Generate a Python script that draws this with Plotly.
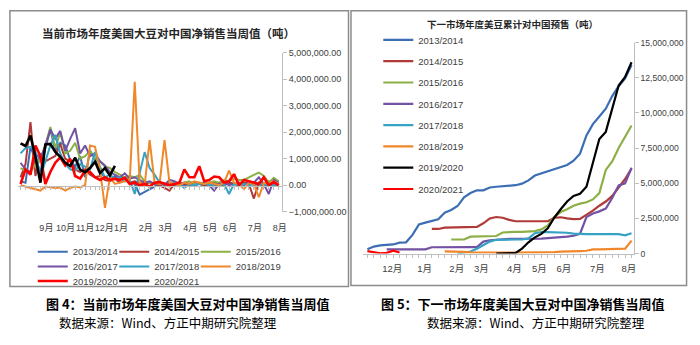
import plotly.graph_objects as go

W, H = 700, 345

# ---------------- data: left chart (weekly net sales, million tonnes) ----------------
weeks_cur = list(range(53))
cur_2013_2014 = [0.15,0.1,1.45,1.0,0.5,1.4,2.1,1.3,1.6,1.5,
                 0.95,0.7,1.1,0.3,1.3,1.0,0.5,0.3,0.2,0.35,
                 0.25,0.3,0.15,0.05,-0.35,-0.25,-0.15,-0.05,0.1,0.05,
                 0.1,0.0,0.05,0.0,0.05,0.1,0.05,0.0,0.05,-0.05,
                 0.05,0.0,0.1,0.05,0.0,0.05,0.1,0.0,0.05,-0.05,
                 0.05,0.0,0.05]
cur_2014_2015 = [0.3,0.8,2.38,0.35,1.2,0.9,1.0,1.1,1.55,1.0,
                 0.9,0.6,0.5,0.6,0.4,0.3,0.35,0.2,0.15,0.25,
                 0.1,0.2,0.1,0.15,0.1,0.05,0.1,0.05,0.0,-0.1,
                 -0.2,0.05,0.1,0.05,0.0,0.1,0.05,0.0,0.05,0.1,
                 0.05,0.0,0.1,0.05,0.0,0.1,0.05,-0.5,0.1,0.05,
                 0.15,0.05,0.1]
cur_2015_2016 = [0.65,0.55,0.5,0.8,1.0,1.5,2.2,1.4,2.0,1.2,
                 1.3,1.6,1.0,1.1,1.3,1.0,0.9,0.7,0.65,0.5,
                 0.4,0.3,0.35,0.3,0.4,0.15,0.1,0.05,0.1,0.0,
                 -0.05,0.1,0.05,0.1,0.15,0.05,0.1,0.05,0.1,0.15,
                 0.1,0.2,0.15,0.25,0.2,0.2,0.3,0.4,0.48,0.35,
                 0.1,0.28,0.15]
cur_2016_2017 = [0.85,0.6,0.5,1.2,1.0,1.5,2.1,1.75,2.05,1.3,
                 1.75,2.15,1.2,1.5,1.1,1.2,0.9,0.75,0.5,0.4,
                 0.3,0.45,0.25,0.3,0.2,0.1,0.15,0.05,0.1,0.0,
                 0.2,0.15,0.05,0.1,0.05,0.0,0.05,0.1,0.0,-0.2,
                 0.05,0.1,0.0,0.05,0.1,0.0,0.15,0.1,0.3,0.05,
                 -0.33,0.2,0.1]
cur_2017_2018 = [1.2,1.4,1.45,1.3,0.3,0.9,1.5,1.9,1.2,0.8,
                 0.6,0.55,0.8,0.7,0.6,1.25,0.7,0.3,0.4,0.25,
                 0.3,0.15,0.2,-0.33,0.5,1.25,0.65,0.4,0.1,0.05,
                 0.0,0.1,0.05,-0.1,0.05,0.0,0.05,0.1,0.0,0.05,
                 0.0,0.05,-0.33,0.05,0.0,0.05,0.0,0.05,0.1,0.0,
                 0.05,0.0,0.05]
cur_2018_2019 = [0.0,-0.05,-0.1,-0.15,-0.2,-0.05,-0.08,-0.1,-0.08,-0.2,
                 -0.1,-0.05,-0.08,0.0,1.5,1.45,0.6,-0.85,0.3,0.05,
                 0.1,0.15,0.2,3.9,0.1,0.0,1.7,0.1,0.05,1.7,
                 0.1,0.05,0.0,0.1,0.05,0.15,0.1,0.05,0.1,0.05,
                 0.0,0.1,0.55,0.1,0.05,-0.15,0.1,0.05,-0.45,0.1,
                 0.05,0.15,0.05]
cur_2019_2020 = [0.05,0.6,0.4,1.5,1.1,0.05,0.5,0.85,1.05,0.75,
                 1.0,0.35,0.25,0.55,0.5,0.3,0.2,0.3,0.2,0.25,
                 0.2,0.28,0.05,0.1,0.0,0.05,-0.05,0.1,0.12,0.05,
                 0.0,0.05,0.1,0.6,0.3,0.3,0.72,0.15,0.2,0.33,
                 0.3,0.1,0.15,0.42,0.0,0.2,0.15,0.1,0.05,0.3,
                 0.0,0.12,0.0]
cur_2020_2021 = [1.58,1.48,1.87,1.07,0.1,1.54,1.56,1.26,1.07,0.85,
                 0.73,1.04,0.59,0.49,0.65,0.89,0.46,0.65,0.37,0.73]

cur_month_pos = [5.2, 9.06, 13.0, 16.85, 20.25, 25.2, 29.2, 34.2, 38.2, 42.2, 47.2, 52.2]
cur_month_lbl = ["9月","10月","11月","12月","1月","2月","3月","4月","5月","6月","7月","8月"]

# ---------------- data: right chart (cumulative presales, million tonnes) ----------------
weeks_next = list(range(42))
N = None
next_2013_2014 = [0.3,0.5,0.58,0.64,0.65,0.78,0.8,1.33,2.07,2.2,
                  2.3,2.44,2.9,3.1,3.38,4.0,4.3,4.5,4.5,4.7,
                  4.75,4.8,4.83,4.86,4.97,5.2,5.55,5.7,5.85,5.97,
                  6.13,6.3,6.6,7.1,8.4,9.2,9.75,10.3,11.2,11.9,
                  12.45,13.4]
next_2014_2015 = [N]*10 + [1.75,1.75,1.85,1.85,1.87,1.87,1.87,1.9,2.15,2.5,
                           2.6,2.55,2.4,2.3,2.3,2.3,2.3,2.3,2.3,2.55,
                           2.58,2.5,2.45,2.47,2.75,3.05,3.4,3.7,4.1,4.7,
                           5.3,6.05]
next_2015_2016 = [N]*13 + [1.0,1.0,1.0,1.2,1.2,1.2,1.22,1.25,1.5,1.55,
                           1.55,1.55,1.57,1.6,1.72,2.0,2.6,2.95,3.15,3.4,
                           3.55,3.65,3.85,4.3,5.95,6.55,7.5,8.3,9.1]
next_2016_2017 = [N]*3 + [0.3,0.3,0.3,0.3,0.3,0.3,0.3,0.45,0.46,0.46,
                          0.46,0.46,0.46,0.46,0.46,0.85,0.95,1.0,1.02,1.04,
                          1.04,1.04,1.04,1.04,1.07,1.1,1.12,1.15,1.2,1.27,
                          1.4,2.6,2.85,3.0,3.2,3.95,4.85,5.0,6.1]
next_2017_2018 = [N]*14 + [0.0,0.05,0.15,0.35,0.6,0.85,0.98,1.0,1.0,1.0,
                           1.0,1.08,1.45,1.52,1.52,1.52,1.52,1.48,1.42,1.38,
                           1.38,1.38,1.38,1.38,1.38,1.38,1.3,1.45]
next_2018_2019 = [N]*12 + [0.15,0.15,0.15,0.12,0.08,0.07,0.07,0.07,0.07,0.07,
                           0.07,0.07,0.07,0.07,0.07,0.07,0.07,0.1,0.14,0.14,
                           0.15,0.18,0.2,0.3,0.3,0.3,0.33,0.35,0.35,0.92]
next_2019_2020 = [N]*20 + [0.0,0.0,0.0,0.05,0.35,0.8,1.15,1.4,1.8,2.55,
                           3.15,3.7,4.1,4.25,4.75,6.5,8.15,8.65,10.3,11.95,
                           12.55,13.6]
next_2020_2021 = [0.18,0.08,0.02,0.05,0.2,0.08] + [N]*36

next_month_pos = [3.85, 8.9, 13.87, 17.7, 22.8, 26.7, 30.5, 35.7, 40.6]
next_month_lbl = ["12月","1月","2月","3月","4月","5月","6月","7月","8月"]

years = ["2013/2014","2014/2015","2015/2016","2016/2017",
         "2017/2018","2018/2019","2019/2020","2020/2021"]
colors_cur = ["#3C6EB4","#B03A37","#8CB045","#7352A3","#36A3C4","#F0882B","#FF0000","#000000"]
colors_next = ["#3C6EB4","#B03A37","#8CB045","#7352A3","#36A3C4","#F0882B","#000000","#FF0000"]
cur_series = [cur_2013_2014, cur_2014_2015, cur_2015_2016, cur_2016_2017,
              cur_2017_2018, cur_2018_2019, cur_2019_2020, cur_2020_2021]
next_series = [next_2013_2014, next_2014_2015, next_2015_2016, next_2016_2017,
               next_2017_2018, next_2018_2019, next_2019_2020, next_2020_2021]

def px_x(p):
    return p / W

def px_y(p):
    return 1 - p / H

NUMFONT = "Liberation Sans, Arial, Noto Sans CJK SC, sans-serif"
CJK = "Noto Sans CJK SC, sans-serif"

fig = go.Figure()

legend_of_cur = ["legend", "legend", "legend", "legend2", "legend2", "legend2", "legend3", "legend3"]
for i, (name, vals) in enumerate(zip(years, cur_series)):
    fig.add_trace(go.Scatter(
        x=weeks_cur[:len(vals)], y=[v * 1e6 for v in vals], name=name, mode="lines",
        line=dict(color=colors_cur[i], width=2.6 if i >= 6 else 2),
        xaxis="x", yaxis="y", legend=legend_of_cur[i]))
    if i in (2, 5, 7):
        # blank spacer entry so the last legend entry of each row is not clipped
        fig.add_trace(go.Scatter(
            x=[None], y=[None], name=" ", mode="lines",
            line=dict(color="rgba(0,0,0,0)", width=0),
            xaxis="x", yaxis="y", legend=legend_of_cur[i], hoverinfo="skip"))

# right chart: draw black last so it sits on top
order_next = [0, 1, 2, 3, 4, 5, 7, 6]
for i in order_next:
    vals = next_series[i]
    fig.add_trace(go.Scatter(
        x=weeks_next, y=[None if v is None else v * 1e6 for v in vals], name=years[i],
        mode="lines", line=dict(color=colors_next[i], width=2.2),
        xaxis="x2", yaxis="y2", legend="legend4", legendgroup="n" + years[i],
        legendrank=i + 1))

# empty traces so the month-label axes get drawn
fig.add_trace(go.Scatter(x=[None], y=[None], xaxis="x3", yaxis="y",
                         showlegend=False, hoverinfo="skip"))
fig.add_trace(go.Scatter(x=[None], y=[None], xaxis="x4", yaxis="y2",
                         showlegend=False, hoverinfo="skip"))

axcol = "#BFBFBF"
tickfont = dict(family=NUMFONT, size=9, color="#404040")
tickfont2 = dict(family=NUMFONT, size=8.6, color="#404040")
monthfont = dict(family=NUMFONT, size=9, color="#404040")
monthfont2 = dict(family=NUMFONT, size=9.5, color="#404040")

cur_range = [-0.54, 52.66]
next_range = [-0.62, 41.34]

fig.update_layout(
    width=W, height=H, margin=dict(l=0, r=0, t=0, b=0),
    paper_bgcolor="white", plot_bgcolor="rgba(0,0,0,0)",
    showlegend=True,
    xaxis=dict(domain=[px_x(18), px_x(284)], range=cur_range, anchor="free",
               position=px_y(186), showline=True, linecolor=axcol, linewidth=1,
               ticks="outside", ticklen=3, tickcolor=axcol, tickvals=weeks_cur,
               showticklabels=False, showgrid=False, zeroline=False),
    xaxis3=dict(domain=[px_x(18), px_x(284)], range=cur_range, overlaying="x",
                anchor="free", position=px_y(222), showline=False, ticks="",
                tickvals=cur_month_pos, ticktext=cur_month_lbl, tickangle=0,
                showgrid=False, zeroline=False, tickfont=monthfont),
    yaxis=dict(domain=[px_y(213), px_y(49)], range=[-1e6, 5e6], side="right",
               anchor="x", showline=True, linecolor=axcol, ticks="outside", ticklen=4,
               tickcolor=axcol, dtick=1e6, tickformat=",.2f", showgrid=False,
               zeroline=False, tickfont=tickfont),
    xaxis2=dict(domain=[px_x(366), px_x(638.3)], range=next_range, anchor="y2",
                showline=True, linecolor=axcol, ticks="outside", ticklen=3,
                tickcolor=axcol, tickvals=weeks_next, showticklabels=False,
                showgrid=False, zeroline=False),
    xaxis4=dict(domain=[px_x(366), px_x(638.3)], range=next_range, overlaying="x2",
                anchor="free", position=px_y(264), showline=False, ticks="",
                tickvals=next_month_pos, ticktext=next_month_lbl, tickangle=0,
                showgrid=False, zeroline=False, tickfont=monthfont2),
    yaxis2=dict(domain=[px_y(256), px_y(38.7)], range=[0, 15e6], side="right",
                anchor="x2", showline=True, linecolor=axcol, ticks="outside", ticklen=4,
                tickcolor=axcol, dtick=2.5e6, tickformat=",d", showgrid=False,
                zeroline=False, tickfont=tickfont2),
)

legfont = dict(family=NUMFONT, size=9.5, color="#404040")
for key, ypx in (("legend", 254), ("legend2", 269.2), ("legend3", 284.2)):
    fig.update_layout({key: dict(orientation="h", x=px_x(33), xanchor="left",
                                 y=px_y(ypx), yanchor="middle", entrywidth=36.5,
                                 traceorder="normal", font=legfont,
                                 bgcolor="rgba(0,0,0,0)")})
fig.update_layout(legend4=dict(orientation="v", x=px_x(381), xanchor="left",
                               y=px_y(21), yanchor="top", traceorder="grouped",
                               tracegroupgap=2.3, font=legfont,
                               bgcolor="rgba(0,0,0,0)"))

# frames
shapes = [
    dict(type="rect", xref="paper", yref="paper", x0=px_x(10), x1=px_x(351),
         y0=px_y(290), y1=px_y(6), line=dict(color="#8C8C8C", width=1.5)),
    dict(type="rect", xref="paper", yref="paper", x0=px_x(353.5), x1=px_x(691.5),
         y0=px_y(289), y1=px_y(6), line=dict(color="#8C8C8C", width=1.5)),
]
fig.update_layout(shapes=shapes)

def ann(text, xpx, ypx, size, color="#1a1a1a", family=CJK):
    return dict(text=text, xref="paper", yref="paper", x=px_x(xpx), y=px_y(ypx),
                xanchor="center", yanchor="middle", showarrow=False,
                font=dict(family=family, size=size, color=color))

fig.update_layout(annotations=[
    ann("<b>当前市场年度美国大豆对中国净销售当周值（吨）</b>", 170, 29, 11.5, "#262626"),
    ann("<b>下一市场年度美豆累计对中国预售（吨）</b>", 516, 20, 9.5, "#262626"),
    ann("<b>图 4：当前市场年度美国大豆对中国净销售当周值</b>", 189, 307, 13, "#000000"),
    ann("<b>图 5：下一市场年度美国大豆对中国净销售当周值</b>", 527, 307, 13, "#000000"),
    ann("数据来源：Wind、方正中期研究院整理", 169, 327, 12.5, "#000000"),
    ann("数据来源：Wind、方正中期研究院整理", 540, 327, 12.5, "#000000"),
])

fig.write_html("out.html")
